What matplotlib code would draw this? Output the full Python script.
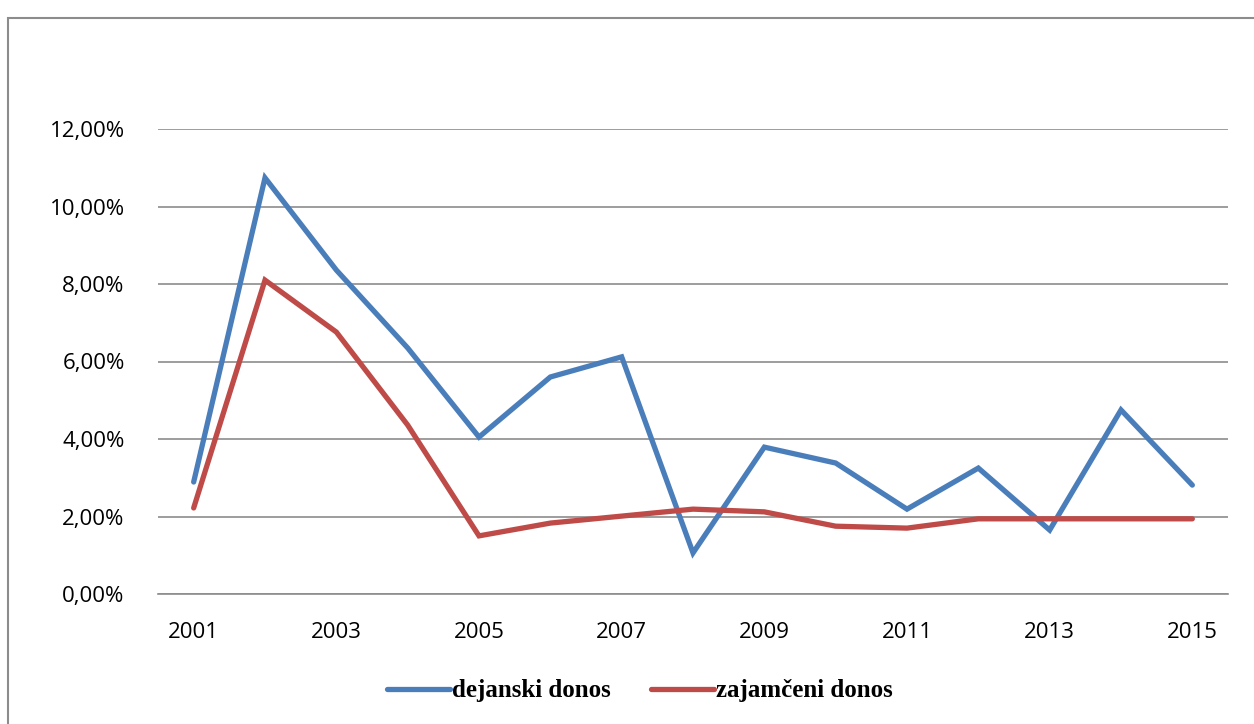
import matplotlib
matplotlib.use("Agg")
import matplotlib.pyplot as plt
from matplotlib.patches import Rectangle
from matplotlib.ticker import FuncFormatter

years = list(range(2001, 2016))
dejanski = [2.89, 10.74, 8.36, 6.35, 4.05, 5.60, 6.12, 1.06, 3.79, 3.38, 2.19, 3.25, 1.65, 4.75, 2.81]
zajamceni = [2.22, 8.10, 6.76, 4.36, 1.50, 1.83, 2.01, 2.19, 2.12, 1.75, 1.70, 1.94, 1.94, 1.94, 1.94]
xticks = [2001, 2003, 2005, 2007, 2009, 2011, 2013, 2015]

W, H = 1254, 724
fig = plt.figure(figsize=(W / 100, H / 100), dpi=100)

# chart frame
fig.patches.append(Rectangle((8 / W, -0.01), 1.1, (H - 18) / H + 0.01, transform=fig.transFigure,
                             fill=False, edgecolor="#8c8c8c", linewidth=1.5))

ax = fig.add_axes([158 / W, 1 - 594 / H, (1228 - 158) / W, (594 - 129) / H])
ax.plot(years, dejanski, color="#4A7EBB", linewidth=3.8, solid_capstyle="round",
        solid_joinstyle="miter", label="dejanski donos")
ax.plot(years, zajamceni, color="#BE4B48", linewidth=3.8, solid_capstyle="round",
        solid_joinstyle="miter", label="zajamčeni donos")

ax.set_xlim(2000.5, 2015.5)
ax.set_ylim(0, 12)
ax.set_yticks([0, 2, 4, 6, 8, 10, 12])
ax.yaxis.set_major_formatter(FuncFormatter(lambda v, p: f"{v:.2f}%".replace(".", ",")))
ax.set_xticks(xticks)
ax.grid(axis="y", color="#8c8c8c", linewidth=1.2)
ax.set_axisbelow(True)
for s in ["top", "right", "left"]:
    ax.spines[s].set_visible(False)
ax.spines["bottom"].set_color("#8c8c8c")
ax.spines["bottom"].set_linewidth(1.2)
ax.tick_params(axis="y", length=0, pad=24, labelsize=16)
ax.tick_params(axis="x", length=0, pad=20, labelsize=16)
for lab in ax.get_xticklabels() + ax.get_yticklabels():
    lab.set_fontfamily("Open Sans")

leg = fig.legend(loc="center", bbox_to_anchor=(640 / W, 1 - 691 / H), ncol=2, frameon=False,
                 prop={"family": "Liberation Serif", "weight": "bold", "size": 18},
                 handlelength=2.5, handletextpad=0.1, columnspacing=1.6)

fig.savefig("out.png", dpi=100)
